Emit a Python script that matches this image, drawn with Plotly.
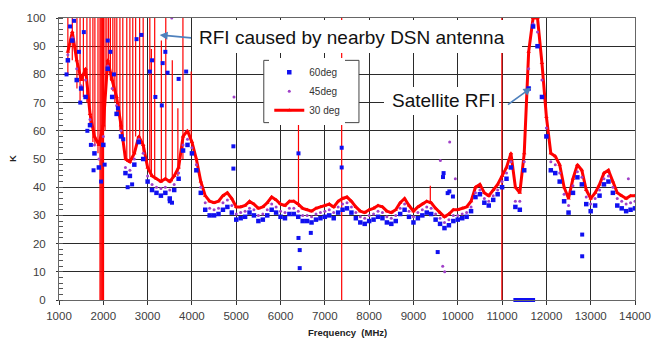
import plotly.graph_objects as go

# ---------------- data ----------------
freq = list(range(1200, 14001, 100))  # MHz, 100 MHz steps

k30 = [88, 95, 85, 78, 82, 66, 58, 55,
       62, 85, 78, 72, 62, 50, 49, 52, 58, 55,
       47, 44, 43, 42, 43, 42, 44, 47, 58, 60,
       56, 50, 42, 37, 35, 34.5, 35, 37, 38, 36,
       33, 33, 33.5, 35, 34, 32.5, 33, 34.5, 36.5, 35.5,
       34, 33.5, 35, 35, 34, 32.5, 32, 31.5, 32.5, 33,
       33.5, 34, 33, 35, 36, 36.5, 35, 33, 31.5, 31,
       32, 32.5, 33.5, 33, 31.5, 31, 32, 34.5, 36, 33.5,
       31.5, 33, 34, 35, 34.5, 32.5, 31, 29.5, 30.5, 32,
       32, 32.5, 33, 35, 40, 41, 38, 37, 39, 41,
       44, 47, 52, 40, 38, 52, 88, 100, 100, 84,
       65, 52, 51, 48, 40, 36, 43, 48, 46, 39,
       36, 38, 41, 45, 46, 42, 38, 37, 36, 37,
       37]

k45 = [87, 93, 82, 76, 78, 64, 55, 50,
       58, 83, 75, 69, 60, 47, 46, 50, 57, 52,
       44, 41, 40, 39.5, 40, 39, 41, 45, 55, 57,
       54, 48, 40, 34.5, 32.5, 32, 32.5, 34.5, 35.5, 33.5,
       30.5, 31, 31.5, 32.5, 32, 30, 30.5, 32, 34, 33,
       31.5, 31, 32.5, 32.5, 31.5, 30, 30, 29.5, 30.5, 31,
       31.5, 32, 31, 33, 34, 34.5, 33, 31, 29.5, 29,
       30, 30.5, 31.5, 31, 29.5, 29, 30, 32.5, 34, 31.5,
       29.5, 31, 32, 33, 32.5, 30.5, 29, 27.5, 28.5, 30,
       30, 30.5, 31, 33, 38, 39, 36, 35, 37, 39,
       42, 45, 49, 35, 35, 49, 82, 98, 95, 78,
       61, 49, 48, 45, 37.5, 33.5, 40.5, 45.5, 43.5, 36.5,
       34, 36, 39, 43, 44, 40, 36, 35, 34, 34.5,
       35]

k60 = [85, 92, 78, 75, 72, 62, 52, 47,
       55, 82, 72, 66, 58, 45, 44, 48, 56, 50,
       42, 39, 38, 37, 38, 36, 39, 43, 53, 55,
       52, 46, 38, 32, 30, 30, 30.5, 32, 33, 31,
       28.5, 29, 29.5, 31, 30, 28, 28.5, 30, 32, 31,
       29.5, 29, 30.5, 30.5, 29.5, 28, 28, 27.5, 28.5, 29,
       29.5, 30, 29, 31, 32, 32.5, 31, 29, 27.5, 27,
       28, 28.5, 29.5, 29, 27.5, 27, 28, 30.5, 32, 29.5,
       27.5, 29, 30, 31, 30.5, 28.5, 27, 25.5, 26.5, 28,
       28.5, 29, 29.5, 31.5, 36.5, 37.5, 34.5, 33.5, 35.5, 37.5,
       40, 43, 47, 33, 32, 46, 75, 97, 90, 72,
       58, 46, 45, 42, 35, 31, 38, 43.5, 41, 34,
       31.5, 33.5, 37, 41, 42, 38, 33.5, 32.5, 31.5, 32,
       32.5]

# RFI spikes on the 30 deg trace: frequency, bottom and top of each vertical line
spike_freq = [1200, 1300, 1405, 1475, 1550, 1630, 1700, 1765, 1810, 1880,
              1925, 1945, 1965, 1985, 2005,
              2040, 2080, 2120, 2160, 2215, 2260, 2305, 2375, 2440, 2530,
              2600, 2665, 2730, 2820, 2900, 3050, 3085, 3160, 3310, 3410,
              3557, 3683, 3797, 3984, 6405, 7380, 9380, 10995]
spike_low = [80, 85, 75, 70, 72, 70, 62, 56, 55, 52,
             0, 0, 0, 0, 0,
             60, 80, 82, 78, 74, 70, 66, 60, 55, 49,
             49, 52, 58, 57, 52, 45, 44, 43, 42, 43,
             42, 44, 50, 56, 33, 0, 34, 0]
spike_high = [100, 100, 100, 100, 100, 100, 100, 100, 100, 100,
              100, 100, 100, 100, 100,
              100, 100, 100, 100, 100, 100, 100, 100, 100, 100,
              100, 100, 100, 100, 100, 100, 89, 100, 92, 100,
              85, 68, 100, 81, 63, 100, 40.5, 100]

# scattered 60 deg points away from the main band
out60_f = [1170, 1250, 1340, 1450, 1480, 1560, 1640, 1720, 1780, 1950,
           2030, 2100, 2160, 2240, 2330, 2450, 2550, 2650, 2750, 2860,
           3050, 3100, 3175, 3320, 3340, 3400, 3450, 3700, 3870, 3500,
           3550, 4936, 4936, 6405, 6405, 6433, 6433, 6683, 7380, 7380,
           9547, 9667, 9680, 9772, 9810, 9891, 12808, 12808]
out60_k = [80, 97, 99, 88, 70, 95, 60, 55, 46, 42,
           48, 92, 88, 80, 68, 57, 40, 41, 92.5, 94,
           81, 85, 72, 69, 84, 88, 80.6, 78.4, 81, 35,
           34.5, 54.5, 46.6, 52, 22, 17.7, 11.3, 23.8, 54, 47,
           17, 43.6, 45, 37.9, 38.5, 36.7, 23.2, 15.5]

# 60 deg readings sitting at 0 K (blue bar on the axis)
zero60_f = [11300, 11320, 11340, 11360, 11380, 11400, 11420, 11440, 11460, 11480,
            11500, 11520, 11540, 11560, 11580, 11600, 11620, 11640, 11660, 11680, 11700]
zero60_k = [0] * len(zero60_f)

# scattered 45 deg points
out45_f = [4950, 9608, 9660, 9705, 9817, 9945, 13850, 3545]
out45_k = [72, 49.5, 12, 10, 56, 43, 43, 100]

x_ticks = [1000, 2000, 3000, 4000, 5000, 6000, 7000, 8000, 9000, 10000, 11000, 12000, 13000, 14000]
x_labels = [str(v) for v in x_ticks]
y_ticks = [0, 10, 20, 30, 40, 50, 60, 70, 80, 90, 100]

RED = "#FF0000"
BLUE = "#1010F0"
PURPLE = "#A040C8"

# ---------------- figure ----------------
fig = go.Figure()

sx, sy = [], []
for f, lo, hi in zip(spike_freq, spike_low, spike_high):
    sx += [f, f, None]
    sy += [lo, hi, None]

fig.add_trace(go.Scatter(x=sx, y=sy, mode="lines", line=dict(color=RED, width=1.2),
                         showlegend=False, hoverinfo="skip"))
fig.add_trace(go.Scatter(x=freq, y=k30, name="30 deg", mode="lines+markers",
                         line=dict(color=RED, width=3),
                         marker=dict(color=RED, size=4, symbol="triangle-up"),
                         legendrank=3))
fig.add_trace(go.Scatter(x=freq, y=k45, name="45deg", mode="markers",
                         marker=dict(color=PURPLE, size=3),
                         legendrank=2))
fig.add_trace(go.Scatter(x=out45_f, y=out45_k, mode="markers",
                         marker=dict(color=PURPLE, size=3), showlegend=False))
fig.add_trace(go.Scatter(x=freq, y=k60, name="60deg", mode="markers",
                         marker=dict(color=BLUE, size=4.5, symbol="square"),
                         legendrank=1))
fig.add_trace(go.Scatter(x=out60_f, y=out60_k, mode="markers",
                         marker=dict(color=BLUE, size=4, symbol="square"), showlegend=False))
fig.add_trace(go.Scatter(x=zero60_f, y=zero60_k, mode="markers", cliponaxis=False,
                         marker=dict(color=BLUE, size=4, symbol="square"), showlegend=False))

L, R, T, B = 59, 26, 17, 45
W, H = 663, 345
pw, ph = W - L - R, H - T - B


def px(xp):
    return (xp - L) / pw


def py(yp):
    return (H - B - yp) / ph


fig.update_layout(
    width=W, height=H,
    margin=dict(l=L, r=R, t=T, b=B),
    paper_bgcolor="white", plot_bgcolor="white",
    font=dict(family="Liberation Sans, Arial, sans-serif", color="#404040"),
    showlegend=True,
    legend=dict(x=px(270), y=py(57), xanchor="left", yanchor="top",
                bgcolor="white", bordercolor="white", borderwidth=0,
                font=dict(size=10, color="#333"), tracegroupgap=0,
                traceorder="normal"),
    xaxis=dict(range=[1000, 14000], tickvals=x_ticks, ticktext=x_labels, showgrid=True,
               gridcolor="#2a2a2a", gridwidth=1, zeroline=False,
               showline=True, linecolor="#666", mirror=True,
               ticks="outside", ticklen=4, tickcolor="#333",
               tickfont=dict(size=11.5, color="#404040"), ticklabelstandoff=1),
    yaxis=dict(range=[0, 100], tickvals=y_ticks, showgrid=True,
               gridcolor="#2a2a2a", gridwidth=1, zeroline=False,
               showline=True, linecolor="#666", mirror=True,
               ticks="outside", ticklen=2, tickcolor="#333",
               tickfont=dict(size=11.5, color="#404040"), ticklabelstandoff=8,
               minor=dict(dtick=2, ticks="inside", ticklen=4, tickcolor="#555", showgrid=False)),
)

# legend frame (white panel with a dark border), under the legend entries
fig.add_shape(type="rect", xref="paper", yref="paper",
              x0=px(264.5), x1=px(360), y0=py(122), y1=py(59.5),
              fillcolor="white", line=dict(width=1, color="#444"), layer="above")

# white boxes (as blank annotations) behind the callout texts
fig.add_annotation(text=" ", xref="paper", yref="paper", x=px(358), y=py(35.5),
                   xanchor="center", yanchor="middle",
                   width=330, height=33, bgcolor="white", borderpad=0, borderwidth=0,
                   showarrow=False)
fig.add_annotation(text=" ", xref="paper", yref="paper", x=px(442.5), y=py(100),
                   xanchor="center", yanchor="middle",
                   width=115, height=28, bgcolor="white", borderpad=0, borderwidth=0,
                   showarrow=False)

ann_font = dict(family="Liberation Sans, Arial, sans-serif", size=19, color="#111")
fig.add_annotation(text="RFI caused by nearby DSN antenna", xref="paper", yref="paper",
                   x=px(353.5), y=py(37), xanchor="center", yanchor="middle",
                   showarrow=False, font=ann_font)
fig.add_annotation(text="Satellite RFI", xref="paper", yref="paper",
                   x=px(445), y=py(100), xanchor="center", yanchor="middle",
                   showarrow=False, font=ann_font)
# arrows
fig.add_annotation(text="", x=3272, y=94, ax=4014, ay=92.9, xref="x", yref="y", axref="x", ayref="y",
                   showarrow=True, arrowhead=2, arrowsize=1, arrowwidth=1.6, arrowcolor="#4F81BD")
fig.add_annotation(text="", x=11661, y=75.3, ax=11099, ay=68.9, xref="x", yref="y", axref="x", ayref="y",
                   showarrow=True, arrowhead=2, arrowsize=1, arrowwidth=1.6, arrowcolor="#4F81BD")

# axis titles
fig.add_annotation(text="<b>Frequency  (MHz)</b>", xref="paper", yref="paper", x=0.5, y=0,
                   xanchor="center", yanchor="middle",
                   yshift=-32, showarrow=False, font=dict(size=9.5, color="#222"))
fig.add_annotation(text="<b>K</b>", xref="paper", yref="paper", x=0, y=0.5, xshift=-47,
                   xanchor="center", yanchor="middle",
                   textangle=-90, showarrow=False, font=dict(size=9.5, color="#222"))

fig.write_html("out.html")
